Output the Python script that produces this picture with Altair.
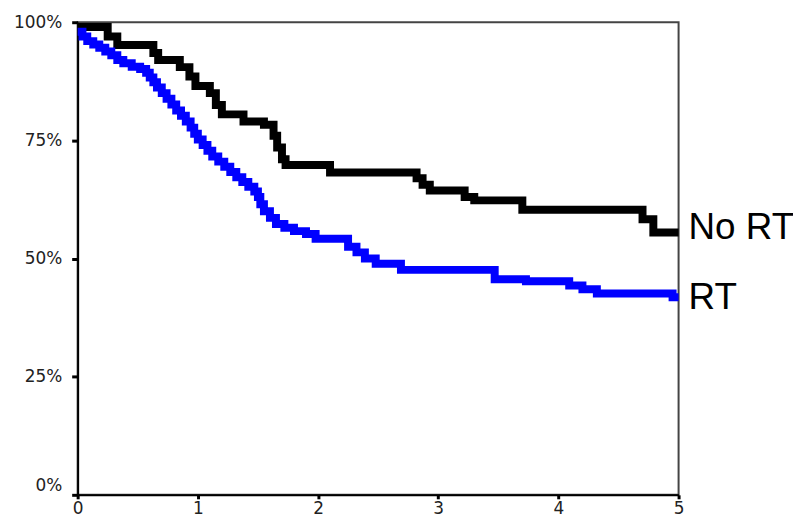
import altair as alt
import pandas as pd

# Survival curves (time in years, survival in %)
no_rt_time = [0.00, 0.25, 0.33, 0.63, 0.67, 0.85, 0.93, 0.98, 1.10, 1.15, 1.20, 1.38, 1.55,
              1.63, 1.66, 1.70, 1.73, 2.10, 2.82, 2.87, 2.93, 3.22, 3.30, 3.70, 4.70, 4.79, 5.00]
no_rt_surv = [99.0, 97.0, 95.2, 93.5, 92.0, 90.5, 88.5, 86.5, 85.0, 82.5, 80.5, 79.0, 78.3,
              76.0, 73.5, 71.0, 69.8, 68.2, 67.0, 65.6, 64.4, 63.0, 62.3, 60.3, 58.3, 55.5, 55.5]

rt_time = [0.00, 0.04, 0.08, 0.13, 0.18, 0.23, 0.28, 0.33, 0.38, 0.45, 0.52, 0.57, 0.60,
           0.63, 0.66, 0.70, 0.74, 0.78, 0.82, 0.86, 0.90, 0.94, 0.97, 1.00, 1.04, 1.08,
           1.12, 1.17, 1.22, 1.27, 1.32, 1.37, 1.42, 1.47, 1.50, 1.52, 1.55, 1.60, 1.65,
           1.72, 1.80, 1.90, 1.98, 2.25, 2.32, 2.39, 2.48, 2.69, 3.47, 3.73, 4.09, 4.20,
           4.32, 4.95, 5.00]
rt_surv = [98.0, 97.0, 96.0, 95.3, 94.6, 93.8, 93.0, 92.0, 91.3, 90.6, 90.1, 89.3, 88.3,
           87.3, 86.2, 85.0, 83.8, 82.6, 81.3, 80.2, 79.0, 77.7, 76.4, 75.2, 74.0, 72.8,
           71.6, 70.5, 69.4, 68.3, 67.2, 66.2, 65.2, 64.2, 63.0, 61.5, 60.0, 58.6, 57.3,
           56.5, 55.8, 55.2, 54.2, 52.5, 51.3, 50.0, 48.9, 47.6, 45.6, 45.2, 44.3, 43.5,
           42.6, 41.8, 41.8]

series_names = ["No RT", "RT"]
series_colors = ["#000000", "#0000ff"]
x_ticks = [0, 1, 2, 3, 4, 5]
y_ticks = [0, 25, 50, 75, 100]

df_no = pd.DataFrame({"t": no_rt_time, "s": no_rt_surv, "group": series_names[0]})
df_rt = pd.DataFrame({"t": rt_time, "s": rt_surv, "group": series_names[1]})
df_lab_no = pd.DataFrame({"t": [no_rt_time[-1]], "s": [no_rt_surv[-1]], "label": [series_names[0]]})
df_lab_rt = pd.DataFrame({"t": [rt_time[-1]], "s": [rt_surv[-1]], "label": [series_names[1]]})

x_enc = alt.X(
    "t:Q",
    scale=alt.Scale(domain=[0, 5], nice=False, zero=False),
    axis=alt.Axis(
        values=x_ticks, title=None, grid=False, format="d", labelFlush=False,
        labelFont="DejaVu Sans", labelFontSize=17, labelColor="#222222",
        labelPadding=2, tickColor="#000000", tickWidth=3, tickSize=4,
        domainColor="#000000", domainWidth=2,
    ),
)
y_enc = alt.Y(
    "s:Q",
    scale=alt.Scale(domain=[0, 100], nice=False),
    axis=alt.Axis(
        values=y_ticks, title=None, grid=False, labelFlush=False,
        labelExpr="datum.value + '%'",
        labelFont="DejaVu Sans", labelFontSize=17, labelColor="#222222",
        labelPadding=10, tickColor="#000000", tickWidth=3, tickSize=6,
        domainColor="#000000", domainWidth=2,
        labelBaseline={"condition": {"test": "datum.value == 0", "value": "bottom"}, "value": "middle"},
    ),
)

line_no = alt.Chart(df_no).mark_line(
    interpolate="step-after", color=series_colors[0], strokeWidth=8, strokeJoin="miter"
).encode(x=x_enc, y=y_enc)

line_rt = alt.Chart(df_rt).mark_line(
    interpolate="step-after", color=series_colors[1], strokeWidth=8, strokeJoin="miter"
).encode(x="t:Q", y="s:Q")

text_no = alt.Chart(df_lab_no).mark_text(
    align="left", baseline="alphabetic", dx=10, dy=7,
    font="Liberation Sans", fontSize=37, color="#000000"
).encode(x="t:Q", y="s:Q", text="label:N")

text_rt = alt.Chart(df_lab_rt).mark_text(
    align="left", baseline="alphabetic", dx=10, dy=12,
    font="Liberation Sans", fontSize=37, color="#000000"
).encode(x="t:Q", y="s:Q", text="label:N")

chart = alt.layer(line_no, line_rt, text_no, text_rt).properties(
    width=604, height=475,
    autosize=alt.AutoSizeParams(type="none"),
    padding={"left": 70, "top": 13, "right": 115, "bottom": 22},
    background="#ffffff",
).configure_view(stroke="#444444", strokeWidth=2)

chart.save("out.html", embed_options={"renderer": "svg", "actions": False})
